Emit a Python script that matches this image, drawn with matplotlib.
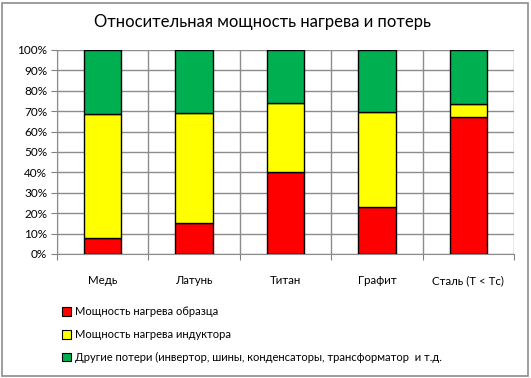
import numpy as np
import matplotlib.pyplot as plt
from matplotlib.patches import Patch, Rectangle

# Данные (доли, %)
materials = ['Медь', 'Латунь', 'Титан', 'Графит', 'Сталь (T < Tc)']
sample_heat = [7.7, 15.2, 40.0, 22.9, 67.2]
inductor_heat = [60.8, 53.9, 34.0, 46.7, 6.2]
other_losses = [31.5, 30.9, 26.0, 30.4, 26.6]
series_names = ['Мощность нагрева образца',
                'Мощность нагрева индуктора',
                'Другие потери (инвертор, шины, конденсаторы, трансформатор  и т.д.']
colors = ['#FF0000', '#FFFF00', '#00B050']

plt.rcParams['font.family'] = ['Lato', 'DejaVu Sans']

W, H = 531, 378
fig = plt.figure(figsize=(W / 100, H / 100), dpi=100)
ax = fig.add_axes([57 / W, 1 - 254 / H, (514 - 57) / W, (254 - 50) / H])

# рамка вокруг диаграммы
fig.patches.append(Rectangle((2 / W, 2 / H), 526 / W, 373 / H, transform=fig.transFigure,
                             fill=False, edgecolor='#8c8c8c', linewidth=1.2))

x = np.arange(len(materials)) + 0.5
bottom = np.zeros(len(materials))
for vals, col in zip([sample_heat, inductor_heat, other_losses], colors):
    ax.bar(x, vals, width=0.41, bottom=bottom, color=col, edgecolor='black',
           linewidth=1.0, zorder=3)
    bottom += np.array(vals)

ax.set_xlim(0, len(materials))
ax.set_ylim(0, 100)
ax.set_yticks(np.arange(0, 101, 10))
ax.set_yticklabels([f'{v}%' for v in range(0, 101, 10)], fontsize=8.5)
ax.set_xticks(np.arange(0, len(materials) + 1))
ax.set_xticklabels([])
ax.set_xticks(x, minor=True)
ax.set_xticklabels(materials, minor=True, fontsize=8.3)
ax.tick_params(axis='x', which='minor', length=0, pad=15)
ax.tick_params(axis='x', which='major', length=4, color='#808080')
ax.tick_params(axis='y', length=4, color='#808080', pad=3)
ax.grid(True, which='major', color='#8c8c8c', linewidth=1.0, zorder=0)
for s in ['top', 'right']:
    ax.spines[s].set_visible(False)
for s in ['left', 'bottom']:
    ax.spines[s].set_color('#8c8c8c')

fig.text(262 / W, 1 - 22 / H, 'Относительная мощность нагрева и потерь',
         fontsize=12, ha='center', va='center')

handles = [Patch(facecolor=c, edgecolor='black', linewidth=0.8) for c in colors]
fig.legend(handles, series_names, loc='upper left', bbox_to_anchor=(58 / W, 1 - 302 / H),
           frameon=False, fontsize=8.0, handlelength=0.8, handleheight=0.8,
           handletextpad=0.35, labelspacing=1.05, borderaxespad=0)

fig.savefig('out.png', dpi=100)
